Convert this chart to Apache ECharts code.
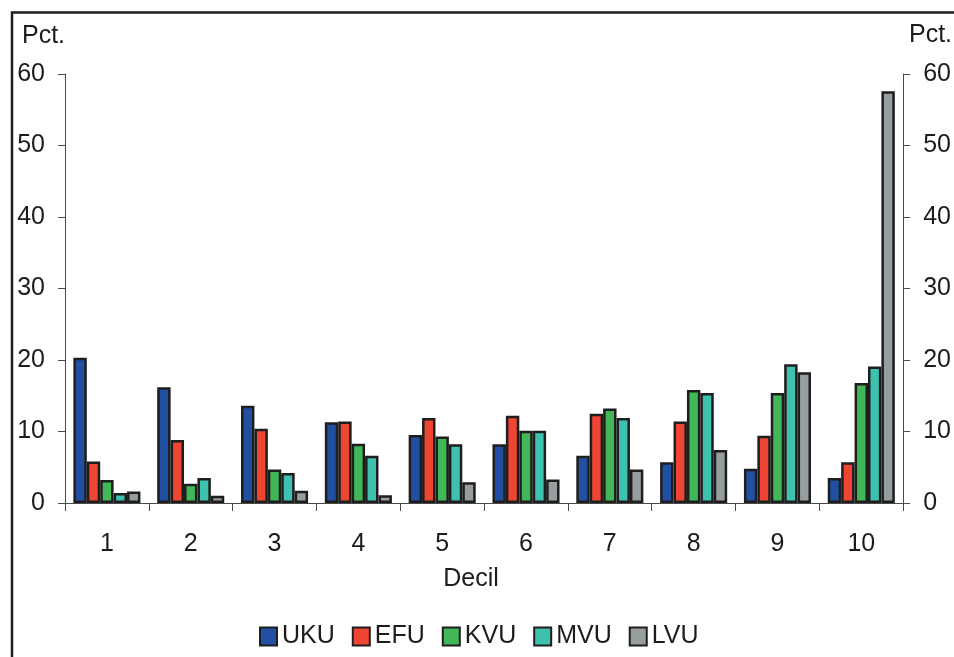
<!DOCTYPE html>
<html>
<head>
<meta charset="utf-8">
<script src="https://cdn.jsdelivr.net/npm/echarts@6/dist/echarts.min.js"></script>
<style>
  html, body { margin: 0; padding: 0; background: #fff; }
  #chart { width: 954px; height: 657px; }
</style>
</head>
<body>
<div id="chart"></div>
<script>
// Share of each group falling in each income decile (pct.)
const deciles = ['1', '2', '3', '4', '5', '6', '7', '8', '9', '10'];
const uku = [20.3, 16.2, 13.6, 11.3, 9.5, 8.2, 6.6, 5.7, 4.8, 3.5];
const efu = [5.8, 8.8, 10.4, 11.4, 11.9, 12.2, 12.5, 11.4, 9.4, 5.7];
const kvu = [3.2, 2.7, 4.7, 8.3, 9.3, 10.1, 13.2, 15.8, 15.4, 16.8];
const mvu = [1.4, 3.5, 4.2, 6.6, 8.2, 10.1, 11.9, 15.4, 19.4, 19.1];
const lvu = [1.6, 1.0, 1.7, 1.1, 2.9, 3.3, 4.7, 7.4, 18.3, 57.6];
const yTicks = { min: 0, max: 60, interval: 10 };

const FONT = '"Liberation Sans", Arial, sans-serif';
const TEXT = '#1f1b1c';
const AXIS = '#4a4a4a';

const seriesDefs = [
  { name: 'UKU', data: uku, color: '#2150a2' },
  { name: 'EFU', data: efu, color: '#ef4634' },
  { name: 'KVU', data: kvu, color: '#42b75a' },
  { name: 'MVU', data: mvu, color: '#3fc1b0' },
  { name: 'LVU', data: lvu, color: '#979ea0' }
];

const chart = echarts.init(document.getElementById('chart'), null, { renderer: 'canvas' });

const yAxisBase = {
  type: 'value',
  min: yTicks.min,
  max: yTicks.max,
  interval: yTicks.interval,
  splitLine: { show: false },
  axisLine: { show: true, lineStyle: { color: AXIS, width: 1 } },
  axisTick: { show: true, length: 7, lineStyle: { color: AXIS, width: 1 } },
  axisLabel: { fontFamily: FONT, fontSize: 25, color: TEXT, margin: 20 }
};

chart.setOption({
  animation: false,
  backgroundColor: '#fff',
  grid: { left: 65, right: 49, top: 74, bottom: 154, containLabel: false },
  xAxis: {
    type: 'category',
    data: deciles,
    boundaryGap: true,
    axisLine: { show: true, lineStyle: { color: AXIS, width: 1 } },
    axisTick: { show: true, length: 8, alignWithLabel: false, lineStyle: { color: AXIS, width: 1 } },
    axisLabel: { fontFamily: FONT, fontSize: 25, color: TEXT, margin: 29 },
    name: 'Decil',
    nameLocation: 'middle',
    nameGap: 64,
    nameTextStyle: { fontFamily: FONT, fontSize: 25, color: TEXT, padding: [0, 26, 0, 0] }
  },
  yAxis: [
    Object.assign({}, yAxisBase, { position: 'left' }),
    Object.assign({}, yAxisBase, { position: 'right' })
  ],
  legend: {
    data: seriesDefs.map(s => s.name),
    left: 259,
    top: 624,
    icon: 'rect',
    itemWidth: 17,
    itemHeight: 18,
    itemGap: 17,
    textStyle: { fontFamily: FONT, fontSize: 25, color: TEXT },
    padding: 0
  },
  series: seriesDefs.map(s => ({
    name: s.name,
    type: 'bar',
    yAxisIndex: 0,
    data: s.data,
    barGap: '0%',
    barCategoryGap: '20%',
    itemStyle: { color: s.color, borderColor: '#1e1e1e', borderWidth: 2.5 }
  })),
  graphic: [
    {
      type: 'rect',
      shape: { x: 12, y: 12.5, width: 1200, height: 900 },
      style: { fill: null, stroke: '#1e1e1e', lineWidth: 2.5 },
      silent: true
    },
    {
      type: 'text',
      left: 22, top: 24,
      style: { text: 'Pct.', font: '25px ' + FONT, fill: TEXT }
    },
    {
      type: 'text',
      left: 909, top: 23,
      style: { text: 'Pct.', font: '25px ' + FONT, fill: TEXT }
    }
  ]
});
</script>
</body>
</html>
